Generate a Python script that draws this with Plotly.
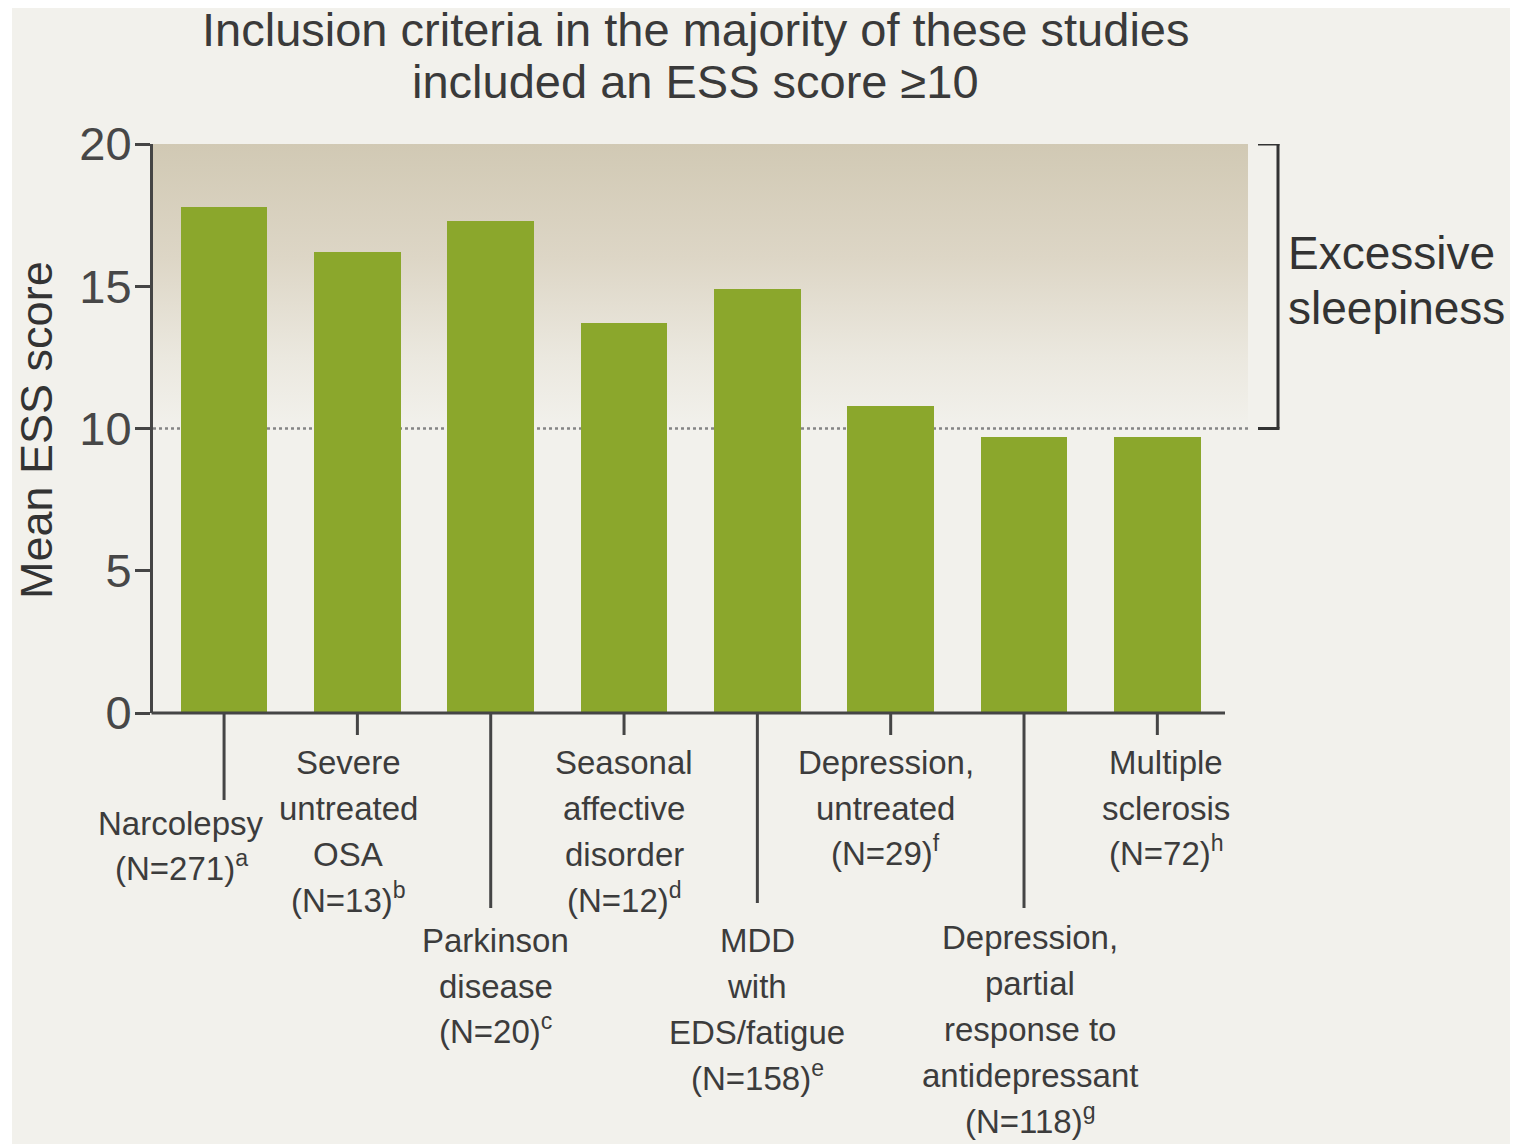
import plotly.graph_objects as go

# ---------------- data ----------------
categories = [
    "Narcolepsy<br>(N=271)<sup>a</sup>",
    "Severe<br>untreated<br>OSA<br>(N=13)<sup>b</sup>",
    "Parkinson<br>disease<br>(N=20)<sup>c</sup>",
    "Seasonal<br>affective<br>disorder<br>(N=12)<sup>d</sup>",
    "MDD<br>with<br>EDS/fatigue<br>(N=158)<sup>e</sup>",
    "Depression,<br>untreated<br>(N=29)<sup>f</sup>",
    "Depression,<br>partial<br>response to<br>antidepressant<br>(N=118)<sup>g</sup>",
    "Multiple<br>sclerosis<br>(N=72)<sup>h</sup>",
]
mean_ess = [17.8, 16.2, 17.3, 13.7, 14.9, 10.8, 9.7, 9.7]
y_ticks = [0, 5, 10, 15, 20]
threshold = 10
y_max = 20
title_text = "Inclusion criteria in the majority of these studies<br>included an ESS score \u226510"
y_title = "Mean ESS score"
band_label = "Excessive<br>sleepiness"

# ---------------- layout geometry (pixels) ----------------
W, H = 1517, 1144
L, R, T, B = 153, 1248, 144, 713
XMIN, XMAX = -0.533, 7.68

def px(xp):
    return (xp - L) / (R - L)

def py(yp):
    return (B - yp) / (B - T)

def ix(i):
    return (i - XMIN) / (XMAX - XMIN)

BG = "#f2f1ec"
GREEN = "#8ba72c"
AXC = "#454545"
TXT = "#3c3c3c"
MAIN_FONT = "Liberation Sans, Arial, Helvetica, sans-serif"

# per-category label placement (style only)
tick_end_px = [800, 735, 908, 735, 903, 735, 908, 735]
first_line_px = [823, 762, 940, 762, 940, 762, 937, 762]
label_shift_px = [-43, -9, 5, 0, 0, -5, 6, 9]
LINE_STEP = 46.2

fig = go.Figure()

# gradient band (base axes, below bars)
fig.add_trace(go.Scatter(
    x=[XMIN, XMAX, XMAX, XMIN, XMIN],
    y=[threshold, threshold, y_max, y_max, threshold],
    mode="lines", line=dict(width=0), fill="toself",
    fillgradient=dict(type="vertical", start=threshold, stop=y_max,
                      colorscale=[[0, BG], [0.25, "#ebe8df"], [0.6, "#ddd6c6"], [1, "#d1c9b4"]]),
    hoverinfo="skip", showlegend=False, xaxis="x", yaxis="y",
))
# dotted threshold line
fig.add_trace(go.Scatter(
    x=[XMIN, XMAX], y=[threshold, threshold], mode="lines",
    line=dict(color="#858585", width=2.5, dash="dot"),
    hoverinfo="skip", showlegend=False, xaxis="x", yaxis="y",
))
# bars (overlay axes so they sit on top of the band)
fig.add_trace(go.Bar(
    x=list(range(len(mean_ess))), y=mean_ess, width=0.65,
    marker=dict(color=GREEN, line=dict(width=0)),
    showlegend=False, xaxis="x2", yaxis="y2",
))

shapes = [
    dict(type="rect", xref="paper", yref="paper", x0=px(12), x1=px(1510), y0=py(8), y1=py(H),
         fillcolor=BG, line=dict(width=0), layer="below"),
    # x axis line
    dict(type="line", xref="paper", yref="paper", x0=px(151.5), x1=px(1225), y0=0, y1=0,
         line=dict(color=AXC, width=3)),
    # bracket
    dict(type="line", xref="paper", yref="y", x0=px(1278), x1=px(1278), y0=threshold, y1=y_max,
         line=dict(color="#333333", width=3)),
    dict(type="line", xref="paper", yref="y", x0=px(1258), x1=px(1279.5), y0=y_max, y1=y_max,
         line=dict(color="#333333", width=3)),
    dict(type="line", xref="paper", yref="y", x0=px(1258), x1=px(1279.5), y0=threshold, y1=threshold,
         line=dict(color="#333333", width=3)),
]
for i, yend in enumerate(tick_end_px):
    shapes.append(dict(type="line", xref="paper", yref="paper", x0=ix(i), x1=ix(i),
                       y0=0, y1=py(yend), line=dict(color=AXC, width=3)))

annotations = []

def add_lines(text, x, xref, first_center, step, size, color, anchor="center", xshift=0):
    for k, line in enumerate(text.split("<br>")):
        annotations.append(dict(
            text=line, xref=xref, yref="paper", x=x, y=py(first_center + k * step),
            xshift=xshift, yshift=3 if "<sup>" in line else 0,
            xanchor=anchor, yanchor="middle", align=anchor if anchor != "center" else "center",
            showarrow=False, font=dict(family=MAIN_FONT, size=size, color=color)))

add_lines(title_text, px(695), "paper", 29, 53, 47, "#3a3a3a")
add_lines(band_label, px(1286), "paper", 253, 55, 46, "#333333", anchor="left")
annotations.append(dict(text=y_title, xref="paper", yref="paper", x=px(37), y=py(430),
                        xanchor="center", yanchor="middle", textangle=-90, showarrow=False,
                        font=dict(family=MAIN_FONT, size=45, color="#333333")))
for i, lab in enumerate(categories):
    add_lines(lab, i, "x", first_line_px[i], LINE_STEP, 33, TXT, xshift=label_shift_px[i])

fig.update_layout(
    width=W, height=H,
    margin=dict(l=L, r=W - R, t=T, b=H - B, pad=0),
    paper_bgcolor="white", plot_bgcolor="rgba(0,0,0,0)",
    showlegend=False, bargap=0,
    xaxis=dict(range=[XMIN, XMAX], visible=False, fixedrange=True),
    yaxis=dict(range=[0, y_max], tickvals=y_ticks, showgrid=False, zeroline=False,
               showline=True, linewidth=3, linecolor=AXC,
               ticks="outside", ticklen=15, tickwidth=3, tickcolor=AXC,
               tickfont=dict(family=MAIN_FONT, size=47, color="#474747"), ticklabelstandoff=-6),
    xaxis2=dict(range=[XMIN, XMAX], overlaying="x", visible=False),
    yaxis2=dict(range=[0, y_max], overlaying="y", visible=False),
    shapes=shapes, annotations=annotations,
)

fig.write_html("out.html")
